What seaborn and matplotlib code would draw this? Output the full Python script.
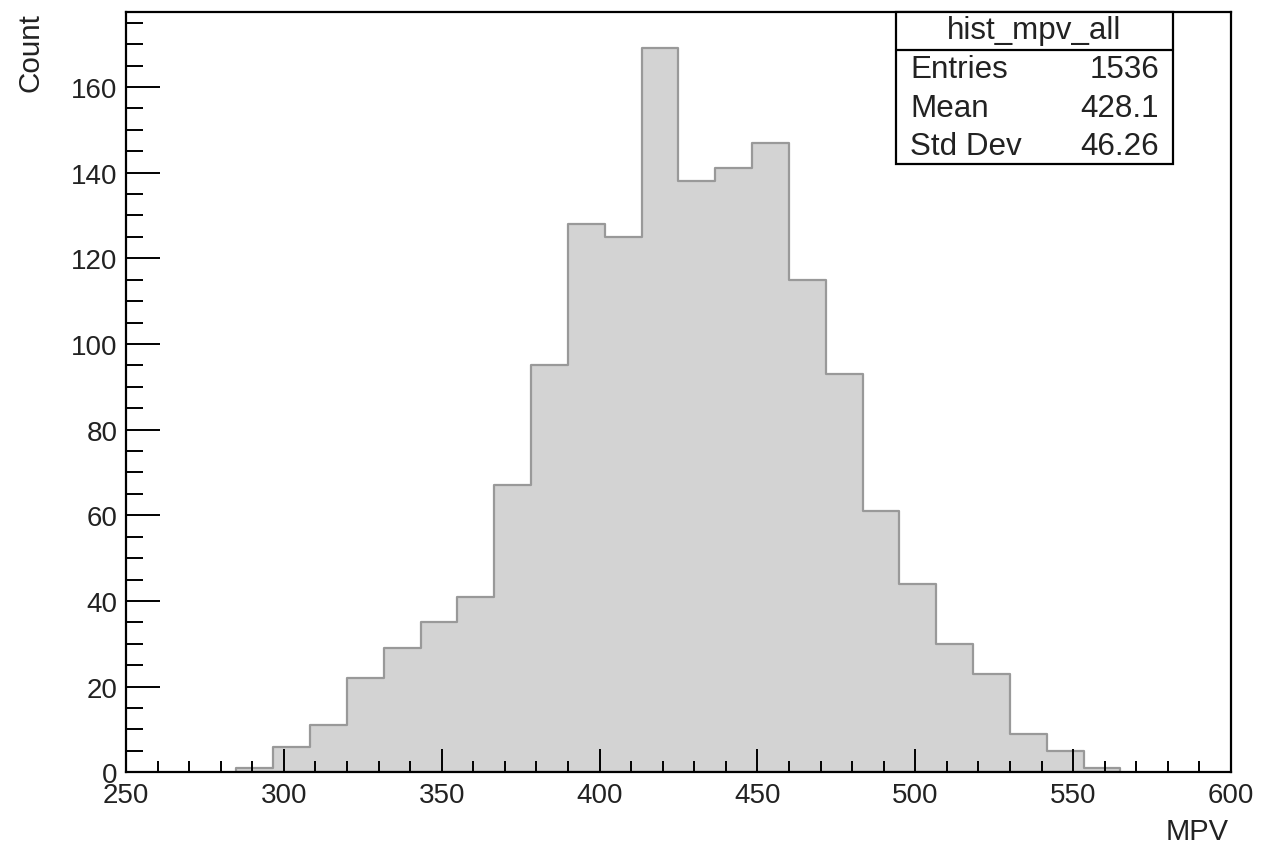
import numpy as np
import pandas as pd
import matplotlib
matplotlib.use("Agg")
import matplotlib.pyplot as plt
from matplotlib.patches import Rectangle
from matplotlib.lines import Line2D
from matplotlib.ticker import MultipleLocator
import seaborn as sns

# ---- data ----
bin_low = 285.0
bin_high = 565.0
n_bins = 24
counts = [1, 6, 11, 22, 29, 35, 41, 67, 95, 128, 125, 169,
          138, 141, 147, 115, 93, 61, 44, 30, 23, 9, 5, 1]
hist_name = "hist_mpv_all"
stat_labels = ["Entries", "Mean", "Std Dev"]
stat_values = ["1536", "428.1", "46.26"]
x_label = "MPV"
y_label = "Count"

edges = np.linspace(bin_low, bin_high, n_bins + 1)
centers = 0.5 * (edges[:-1] + edges[1:])
df = pd.DataFrame({"MPV": centers, "count": counts})

sns.set_theme(style="white")
plt.rcParams["font.family"] = ["Liberation Sans", "DejaVu Sans"]

fig = plt.figure(figsize=(12.62, 8.45), dpi=100)
ax = fig.add_axes([0.0998, 0.0849, 0.9754 - 0.0998, 0.9843 - 0.0849])

sns.histplot(data=df, x="MPV", weights="count", bins=n_bins,
             binrange=(bin_low, bin_high), element="step",
             fill=True, color="#d3d3d3", alpha=1.0, edgecolor="#999999",
             linewidth=1.6, ax=ax)

ax.set_xlim(250, 600)
ax.set_ylim(0, 177.45)
ax.set_xlabel("")
ax.set_ylabel("")
ax.set_axisbelow(False)
for c in ax.collections:
    c.set_zorder(1)

for s in ax.spines.values():
    s.set_visible(True)
    s.set_color("black")
    s.set_linewidth(1.6)
    s.set_zorder(3)

ax.xaxis.set_major_locator(MultipleLocator(50))
ax.xaxis.set_minor_locator(MultipleLocator(10))
ax.yaxis.set_major_locator(MultipleLocator(20))
ax.yaxis.set_minor_locator(MultipleLocator(5))
ax.tick_params(axis="x", which="major", direction="in", length=16.5, width=1.4,
               labelsize=20, pad=7, color="black", bottom=True, top=False)
ax.tick_params(axis="x", which="minor", direction="in", length=7.7, width=1.4,
               color="black", bottom=True, top=False)
ax.tick_params(axis="y", which="major", direction="in", length=24.5, width=1.4,
               labelsize=20, pad=6, color="black", left=True, right=False)
ax.tick_params(axis="y", which="minor", direction="in", length=12, width=1.4,
               color="black", left=True, right=False)
for lab in ax.get_xticklabels() + ax.get_yticklabels():
    lab.set_color("#222222")

fig.text(0.024, 0.985, y_label, rotation=90, ha="center", va="top",
         fontsize=21.3, color="#222222")
fig.text(0.9735, 0.015, x_label, ha="right", va="center", fontsize=21,
         color="#222222")

# stats box
bx0, bx1 = 896 / 1262, 1173 / 1262
by0, by1 = 1 - 165 / 845, 1 - 13 / 845
hy = 1 - 50.7 / 845
fig.patches.append(Rectangle((bx0, by0), bx1 - bx0, by1 - by0,
                             transform=fig.transFigure, facecolor="white",
                             edgecolor="black", linewidth=1.6, zorder=5))
fig.lines.append(Line2D([bx0, bx1], [hy, hy], transform=fig.transFigure,
                        color="black", linewidth=1.6, zorder=6))
fig.text((bx0 + bx1) / 2, 1 - 31 / 845, hist_name, ha="center", va="center",
         fontsize=22.6, color="#222222", zorder=7)
row_y = [70, 109, 147]
for lab, val, yy in zip(stat_labels, stat_values, row_y):
    fig.text(910 / 1262, 1 - yy / 845, lab, ha="left", va="center",
             fontsize=22.6, color="#222222", zorder=7)
    fig.text(1159 / 1262, 1 - yy / 845, val, ha="right", va="center",
             fontsize=22.6, color="#222222", zorder=7)

fig.savefig("out.png", dpi=100, facecolor="white")
